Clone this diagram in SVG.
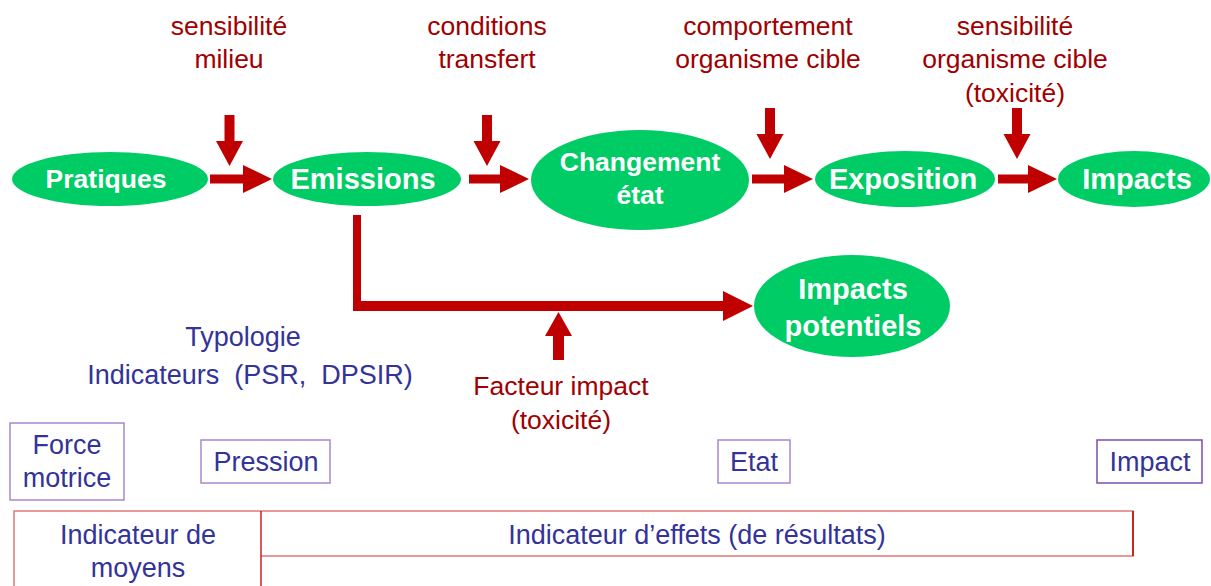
<svg xmlns="http://www.w3.org/2000/svg" width="1211" height="586" viewBox="0 0 1211 586">
<defs>
<style>
.node{fill:#00CC66;}
.nt{fill:#fff;font-family:"Liberation Sans",Arial,sans-serif;font-weight:bold;text-anchor:middle;}
.red{fill:#A00000;font-family:"Liberation Sans",Arial,sans-serif;font-size:26.5px;text-anchor:middle;}
.blue{fill:#333399;font-family:"Liberation Sans",Arial,sans-serif;font-size:27px;text-anchor:middle;}
.arr{fill:#C00000;}
.box{fill:#fff;stroke:#A888D0;stroke-width:1.5;}
.tab{fill:none;stroke:#E07878;stroke-width:1.5;}
</style>
</defs>
<rect width="1211" height="586" fill="#fff"/>

<g id="connectors">
<path class="arr" d="M210,174.5 H243 V165 L272,179 L243,193 V183.5 H210 Z"/>
<path class="arr" d="M469,174.5 H500 V165 L529,179 L500,193 V183.5 H469 Z"/>
<path class="arr" d="M752,174.5 H784 V165 L813,179 L784,193 V183.5 H752 Z"/>
<path class="arr" d="M998,174.5 H1028 V165 L1057,179 L1028,193 V183.5 H998 Z"/>
<path class="arr" d="M224.5,115 H234.5 V141 H243 L229.5,166 L216,141 H224.5 Z"/>
<path class="arr" d="M482,115 H492 V141 H500.5 L487,166 L473.5,141 H482 Z"/>
<path class="arr" d="M765,108 H775 V134 H783.5 L770,159 L756.5,134 H765 Z"/>
<path class="arr" d="M1012,108 H1022 V134 H1030.5 L1017,159 L1003.5,134 H1012 Z"/>
<path class="arr" d="M353,215 H361 V301 H723 V291 L753,306 L723,321 V311 H353 Z"/>
<path class="arr" d="M553,360 V336 H545 L558.5,312 L572,336 H564 V360 Z"/>
</g>

<g id="n-pratiques"><ellipse class="node" cx="110" cy="179" rx="98" ry="27"/><text class="nt" x="106" y="188" font-size="26.5">Pratiques</text></g>
<g id="n-emissions"><ellipse class="node" cx="367" cy="179" rx="94" ry="27"/><text class="nt" x="363" y="189" font-size="29">Emissions</text></g>
<g id="n-changement"><ellipse class="node" cx="640" cy="180" rx="109" ry="50"/><text class="nt" x="640" y="171" font-size="26.5">Changement</text><text class="nt" x="640" y="204" font-size="26.5">état</text></g>
<g id="n-exposition"><ellipse class="node" cx="905" cy="179" rx="90" ry="28"/><text class="nt" x="903" y="189" font-size="29">Exposition</text></g>
<g id="n-impacts"><ellipse class="node" cx="1134" cy="179" rx="76" ry="28"/><text class="nt" x="1137" y="189" font-size="29">Impacts</text></g>
<g id="n-impacts-pot"><ellipse class="node" cx="852" cy="306" rx="98" ry="51"/><text class="nt" x="853" y="299" font-size="29">Impacts</text><text class="nt" x="853" y="336" font-size="29">potentiels</text></g>

<g id="labels">
<text class="red" x="229" y="35">sensibilité</text>
<text class="red" x="229" y="68">milieu</text>
<text class="red" x="487" y="35">conditions</text>
<text class="red" x="487" y="68">transfert</text>
<text class="red" x="768" y="35">comportement</text>
<text class="red" x="768" y="68">organisme cible</text>
<text class="red" x="1015" y="35">sensibilité</text>
<text class="red" x="1015" y="68">organisme cible</text>
<text class="red" x="1015" y="102">(toxicité)</text>
<text class="red" x="561" y="395">Facteur impact</text>
<text class="red" x="561" y="429">(toxicité)</text>
<text class="blue" x="243" y="346" font-size="28">Typologie</text>
<text class="blue" x="250" y="384" font-size="28" xml:space="preserve">Indicateurs  (PSR,  DPSIR)</text>
</g>

<g id="box-force"><rect class="box" x="10" y="423" width="114" height="77"/><text class="blue" x="67" y="454">Force</text><text class="blue" x="67" y="487">motrice</text></g>
<g id="box-pression"><rect class="box" x="201" y="440" width="129" height="43"/><text class="blue" x="266" y="471">Pression</text></g>
<g id="box-etat"><rect class="box" x="718" y="440" width="72" height="43"/><text class="blue" x="754" y="471">Etat</text></g>
<g id="box-impact"><rect class="box" x="1097" y="440" width="105" height="43" style="stroke:#7A4FB0"/><text class="blue" x="1150" y="471">Impact</text></g>

<g id="table">
<path class="tab" d="M14,586 V511 H1133 V556 H261"/>
<line x1="261" y1="511" x2="261" y2="586" stroke="#D02020" stroke-width="1.5"/>
<line x1="1133" y1="511" x2="1133" y2="556" stroke="#C00000" stroke-width="1.5"/>
<text class="blue" x="138" y="544">Indicateur de</text>
<text class="blue" x="138" y="577">moyens</text>
<text class="blue" x="697" y="544">Indicateur d’effets (de résultats)</text>
</g>
</svg>
